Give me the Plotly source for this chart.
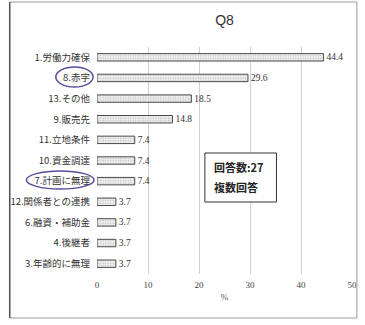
import plotly.graph_objects as go

# Q8 responses (multiple answers allowed), percentage of respondents
categories = [
    "1.労働力確保", "8.赤字", "13.その他", "9.販売先", "11.立地条件",
    "10.資金調達", "7.計画に無理", "12.関係者との連携", "6.融資・補助金",
    "4.後継者", "3.年齢的に無理",
]
values = [44.4, 29.6, 18.5, 14.8, 7.4, 7.4, 7.4, 3.7, 3.7, 3.7, 3.7]
x_ticks = [0, 10, 20, 30, 40, 50]
note_lines = ["回答数:27", "複数回答"]

JP = "Noto Sans CJK JP"
SERIF = "Liberation Serif"

fig = go.Figure(
    go.Bar(
        x=values,
        y=categories,
        orientation="h",
        width=0.36,
        marker=dict(
            color="#f4f4f4",
            line=dict(color="#4a4a4a", width=1),
            pattern=dict(shape=".", fgcolor="#8a8a8a", size=2.5, solidity=0.35),
        ),
        text=[f"{v:.1f}" for v in values],
        textposition="outside",
        constraintext="none",
        textfont=dict(family=SERIF, size=9.5, color="#333"),
        cliponaxis=False,
    )
)

W, H = 365, 325
L, R, T, B = 97, 8, 47, 51
pw, ph = W - L - R, H - T - B


def px(x):
    return (x - L) / pw


def py(y):
    return 1 - (y - T) / ph


shapes = [
    # outer frame
    dict(type="rect", xref="paper", yref="paper",
         x0=px(8), x1=px(362), y0=py(318), y1=py(2),
         line=dict(color="#9a9a9a", width=1)),
    dict(type="line", xref="paper", yref="paper",
         x0=px(8), x1=px(8), y0=py(318), y1=py(2),
         line=dict(color="#555", width=1.5)),
    # note box
    dict(type="rect", xref="paper", yref="paper",
         x0=px(207), x1=px(280), y0=py(202), y1=py(153),
         line=dict(color="#333", width=1), fillcolor="white"),
    # highlighted categories
    dict(type="circle", xref="paper", yref="paper",
         x0=px(55), x1=px(93), y0=py(87), y1=py(67),
         line=dict(color="#5b4b9b", width=1.5)),
    dict(type="circle", xref="paper", yref="paper",
         x0=px(25), x1=px(94), y0=py(189), y1=py(171),
         line=dict(color="#5b4b9b", width=1.5)),
]

annotations = [
    dict(xref="paper", yref="paper", x=px(214), y=py(yy),
         xanchor="left", yanchor="middle", align="left", showarrow=False,
         text=f"<b>{line}</b>",
         font=dict(family=JP, size=11, color="#222"))
    for line, yy in zip(note_lines, [167, 187])
]

fig.update_layout(
    width=W, height=H,
    margin=dict(l=L, r=R, t=T, b=B),
    paper_bgcolor="white", plot_bgcolor="white",
    showlegend=False,
    title=dict(text="Q8", x=0.5, xref="paper", y=1 - 20 / H, yanchor="middle",
               font=dict(family="Liberation Sans", size=14, color="#333")),
    shapes=shapes,
    annotations=annotations,
)

fig.update_xaxes(
    range=[0, 50], tickvals=x_ticks, ticktext=[str(t) for t in x_ticks],
    showgrid=True, gridcolor="#d0d0d0", gridwidth=1,
    zeroline=False, showline=False,
    tickfont=dict(family=SERIF, size=9, color="#444"),
    ticks="", ticklabelstandoff=4,
    title=dict(text="%", font=dict(family=SERIF, size=9, color="#555"), standoff=4),
)
fig.update_yaxes(
    autorange="reversed",
    showgrid=False, zeroline=False, showline=False, ticks="",
    tickfont=dict(family=JP, size=9.5, color="#333"),
    ticklabelstandoff=6,
)

fig.write_html("out.html")
